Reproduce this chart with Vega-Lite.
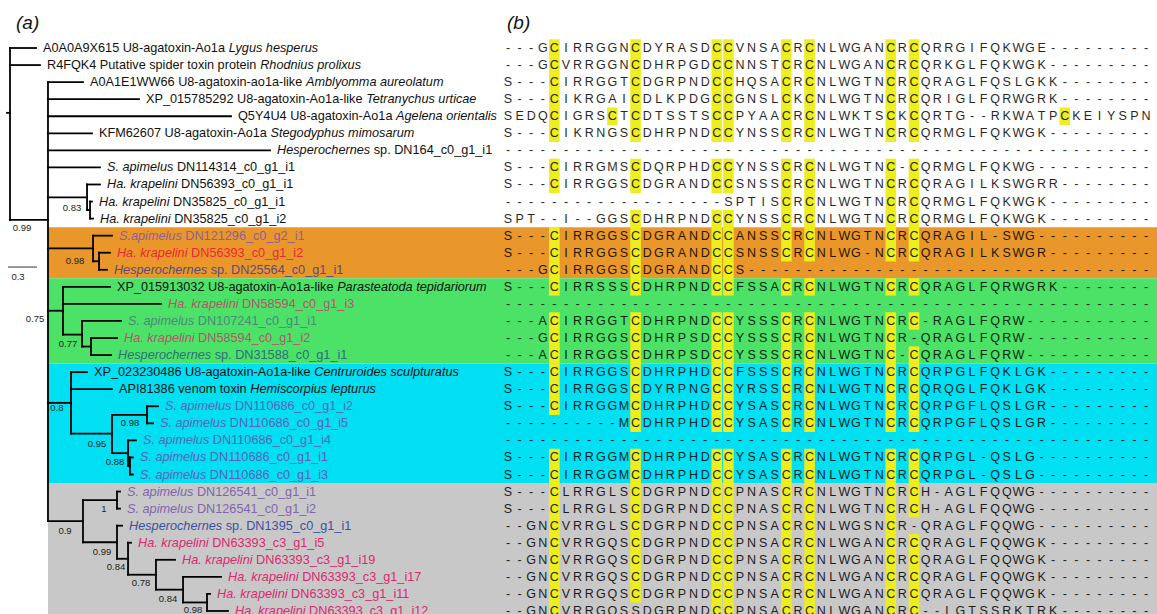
{
"$schema":"https://vega.github.io/schema/vega-lite/v6.json",
"width":1157,"height":614,
"autosize":{"type":"fit","contains":"padding"},
"padding":0,
"background":"white",
"config":{"view":{"stroke":null},"text":{"font":"Liberation Sans"}},
"resolve":{"scale":{"x":"independent"}},
"datasets":{
"bands":[{"b":"orange","x":0.393,"x2":12,"y":11.5,"y2":14.5},{"b":"green","x":0.393,"x2":12,"y":14.5,"y2":19.5},{"b":"cyan","x":0.393,"x2":12,"y":19.5,"y2":26.5},{"b":"grey","x":0.393,"x2":12,"y":26.5,"y2":35}],
"tree":[
{"x":0,"x2":0,"y":1,"y2":11.08},{"x":-0.031,"x2":0,"y":4.8,"y2":4.8},{"x":0,"x2":0.269,"y":1,"y2":1},{"x":0,"x2":0.31,"y":2,"y2":2},{"x":0,"x2":0.393,"y":11.08,"y2":11.08},
{"x":0.393,"x2":0.393,"y":3,"y2":28.73},{"x":0.393,"x2":0.755,"y":3,"y2":3},{"x":0.393,"x2":1.334,"y":4,"y2":4},{"x":0.393,"x2":2.286,"y":5,"y2":5},{"x":0.393,"x2":0.848,"y":6,"y2":6},{"x":0.393,"x2":2.69,"y":7,"y2":7},{"x":0.393,"x2":0.931,"y":8,"y2":8},
{"x":0.393,"x2":0.797,"y":9.75,"y2":9.75},{"x":0.797,"x2":0.797,"y":9,"y2":10.5},{"x":0.797,"x2":0.931,"y":9,"y2":9},{"x":0.797,"x2":0.828,"y":10.5,"y2":10.5},{"x":0.828,"x2":0.828,"y":10,"y2":11},{"x":0.828,"x2":0.848,"y":10,"y2":10},{"x":0.828,"x2":0.859,"y":11,"y2":11},
{"x":0.393,"x2":0.859,"y":12.75,"y2":12.75},{"x":0.859,"x2":0.859,"y":12,"y2":13.5},{"x":0.859,"x2":1.055,"y":12,"y2":12},{"x":0.859,"x2":0.921,"y":13.5,"y2":13.5},{"x":0.921,"x2":0.921,"y":13,"y2":14},{"x":0.921,"x2":1.034,"y":13,"y2":13},{"x":0.921,"x2":1.003,"y":14,"y2":14},
{"x":0.393,"x2":0.548,"y":16.4,"y2":16.4},{"x":0.548,"x2":0.548,"y":15,"y2":17.8},{"x":0.548,"x2":1.034,"y":15,"y2":15},{"x":0.548,"x2":1.562,"y":16,"y2":16},{"x":0.548,"x2":0.745,"y":17.8,"y2":17.8},{"x":0.745,"x2":0.745,"y":17,"y2":18.5},{"x":0.745,"x2":1.148,"y":17,"y2":17},{"x":0.745,"x2":0.838,"y":18.5,"y2":18.5},{"x":0.838,"x2":0.838,"y":18,"y2":19},{"x":0.838,"x2":1.107,"y":18,"y2":18},{"x":0.838,"x2":1.045,"y":19,"y2":19},
{"x":0.393,"x2":0.631,"y":21.8,"y2":21.8},{"x":0.631,"x2":0.631,"y":20,"y2":23.6},{"x":0.631,"x2":0.797,"y":20,"y2":20},{"x":0.631,"x2":1.055,"y":21,"y2":21},{"x":0.631,"x2":1.055,"y":23.6,"y2":23.6},{"x":1.055,"x2":1.055,"y":22.5,"y2":24.75},{"x":1.055,"x2":1.417,"y":22.5,"y2":22.5},{"x":1.417,"x2":1.417,"y":22,"y2":23},{"x":1.417,"x2":1.531,"y":22,"y2":22},{"x":1.417,"x2":1.479,"y":23,"y2":23},{"x":1.055,"x2":1.221,"y":24.75,"y2":24.75},{"x":1.221,"x2":1.221,"y":24,"y2":25.5},{"x":1.221,"x2":1.303,"y":24,"y2":24},{"x":1.221,"x2":1.241,"y":25.5,"y2":25.5},{"x":1.241,"x2":1.241,"y":25,"y2":26},{"x":1.241,"x2":1.272,"y":25,"y2":25},{"x":1.241,"x2":1.272,"y":26,"y2":26},
{"x":0.393,"x2":0.755,"y":28.73,"y2":28.73},{"x":0.755,"x2":0.755,"y":27.5,"y2":29.97},{"x":0.755,"x2":1.107,"y":27.5,"y2":27.5},{"x":1.107,"x2":1.107,"y":27,"y2":28},{"x":1.107,"x2":1.138,"y":27,"y2":27},{"x":1.107,"x2":1.138,"y":28,"y2":28},{"x":0.755,"x2":1.107,"y":29.97,"y2":29.97},{"x":1.107,"x2":1.107,"y":29,"y2":30.94},{"x":1.107,"x2":1.159,"y":29,"y2":29},{"x":1.107,"x2":1.221,"y":30.94,"y2":30.94},{"x":1.221,"x2":1.221,"y":30,"y2":31.875},{"x":1.221,"x2":1.252,"y":30,"y2":30},{"x":1.221,"x2":1.51,"y":31.875,"y2":31.875},{"x":1.51,"x2":1.51,"y":31,"y2":32.75},{"x":1.51,"x2":1.707,"y":31,"y2":31},{"x":1.51,"x2":1.79,"y":32.75,"y2":32.75},{"x":1.79,"x2":1.79,"y":32,"y2":33.5},{"x":1.79,"x2":2.183,"y":32,"y2":32},{"x":1.79,"x2":2.038,"y":33.5,"y2":33.5},{"x":2.038,"x2":2.038,"y":33,"y2":34},{"x":2.038,"x2":2.069,"y":33,"y2":33},{"x":2.038,"x2":2.255,"y":34,"y2":34}
],
"scalebar":[{"x":-0.021,"x2":0.279,"y":13.84}],
"support":[{"v":"0.99","lx":0.124,"ly":11.55},{"v":"0.83","lx":0.641,"ly":10.38},{"v":"0.98","lx":0.672,"ly":13.49},{"v":"0.3","lx":0.083,"ly":14.42},{"v":"0.75","lx":0.259,"ly":16.88},{"v":"0.77","lx":0.6,"ly":18.35},{"v":"0.8","lx":0.486,"ly":22.1},{"v":"0.98","lx":1.241,"ly":22.98},{"v":"0.95","lx":0.9,"ly":24.2},{"v":"0.88","lx":1.086,"ly":25.27},{"v":"1","lx":0.972,"ly":28.02},{"v":"0.9","lx":0.569,"ly":29.31},{"v":"0.99","lx":0.952,"ly":30.54},{"v":"0.84","lx":1.097,"ly":31.42},{"v":"0.78","lx":1.355,"ly":32.36},{"v":"0.84","lx":1.634,"ly":33.3},{"v":"0.98","lx":1.893,"ly":33.94}],
"tips":[
{"r":1,"x":0.269,"a":"A0A0A9X615 U8-agatoxin-Ao1a","b":"Lygus hesperus","k":"n","g":"ref"},
{"r":2,"x":0.31,"a":"R4FQK4 Putative spider toxin protein","b":"Rhodnius prolixus","k":"n","g":"ref"},
{"r":3,"x":0.755,"a":"A0A1E1WW66 U8-agatoxin-ao1a-like","b":"Amblyomma aureolatum","k":"n","g":"ref"},
{"r":4,"x":1.334,"a":"XP_015785292 U8-agatoxin-Ao1a-like","b":"Tetranychus urticae","k":"n","g":"ref"},
{"r":5,"x":2.286,"a":"Q5Y4U4 U8-agatoxin-Ao1a","b":"Agelena orientalis","k":"n","g":"ref"},
{"r":6,"x":0.848,"a":"KFM62607 U8-agatoxin-Ao1a","b":"Stegodyphus mimosarum","k":"n","g":"ref"},
{"r":7,"x":2.69,"a":"Hesperochernes","b":"sp. DN164_c0_g1_i1","k":"i","g":"ref"},
{"r":8,"x":0.931,"a":"S. apimelus","b":"DN114314_c0_g1_i1","k":"i","g":"ref"},
{"r":9,"x":0.931,"a":"Ha. krapelini","b":"DN56393_c0_g1_i1","k":"i","g":"ref"},
{"r":10,"x":0.848,"a":"Ha. krapelini","b":"DN35825_c0_g1_i1","k":"i","g":"ref"},
{"r":11,"x":0.859,"a":"Ha. krapelini","b":"DN35825_c0_g1_i2","k":"i","g":"ref"},
{"r":12,"x":1.055,"a":"S.apimelus","b":"DN121296_c0_g2_i1","k":"i","g":"Sa-or"},
{"r":13,"x":1.034,"a":"Ha. krapelini","b":"DN56393_c0_g1_i2","k":"i","g":"Hk-or"},
{"r":14,"x":1.003,"a":"Hesperochernes","b":"sp. DN25564_c0_g1_i1","k":"i","g":"He-or"},
{"r":15,"x":1.034,"a":"XP_015913032 U8-agatoxin-Ao1a-like","b":"Parasteatoda tepidariorum","k":"n","g":"ref"},
{"r":16,"x":1.562,"a":"Ha. krapelini","b":"DN58594_c0_g1_i3","k":"i","g":"Hk-gr"},
{"r":17,"x":1.148,"a":"S. apimelus","b":"DN107241_c0_g1_i1","k":"i","g":"Sa-gr"},
{"r":18,"x":1.107,"a":"Ha. krapelini","b":"DN58594_c0_g1_i2","k":"i","g":"Hk-gr"},
{"r":19,"x":1.045,"a":"Hesperochernes","b":"sp. DN31588_c0_g1_i1","k":"i","g":"He-gr"},
{"r":20,"x":0.797,"a":"XP_023230486 U8-agatoxin-Ao1a-like","b":"Centruroides sculpturatus","k":"n","g":"ref"},
{"r":21,"x":1.055,"a":"API81386 venom toxin","b":"Hemiscorpius lepturus","k":"n","g":"ref"},
{"r":22,"x":1.531,"a":"S. apimelus","b":"DN110686_c0_g1_i2","k":"i","g":"Sa-cy"},
{"r":23,"x":1.479,"a":"S. apimelus","b":"DN110686_c0_g1_i5","k":"i","g":"Sa-cy"},
{"r":24,"x":1.303,"a":"S. apimelus","b":"DN110686_c0_g1_i4","k":"i","g":"Sa-cy"},
{"r":25,"x":1.272,"a":"S. apimelus","b":"DN110686_c0_g1_i1","k":"i","g":"Sa-cy"},
{"r":26,"x":1.272,"a":"S. apimelus","b":"DN110686_c0_g1_i3","k":"i","g":"Sa-cy"},
{"r":27,"x":1.138,"a":"S. apimelus","b":"DN126541_c0_g1_i1","k":"i","g":"Sa-gy"},
{"r":28,"x":1.138,"a":"S. apimelus","b":"DN126541_c0_g1_i2","k":"i","g":"Sa-gy"},
{"r":29,"x":1.159,"a":"Hesperochernes","b":"sp. DN1395_c0_g1_i1","k":"i","g":"He-gy"},
{"r":30,"x":1.252,"a":"Ha. krapelini","b":"DN63393_c3_g1_i5","k":"i","g":"Hk-gy"},
{"r":31,"x":1.707,"a":"Ha. krapelini","b":"DN63393_c3_g1_i19","k":"i","g":"Hk-gy"},
{"r":32,"x":2.183,"a":"Ha. krapelini","b":"DN63393_c3_g1_i17","k":"i","g":"Hk-gy"},
{"r":33,"x":2.069,"a":"Ha. krapelini","b":"DN63393_c3_g1_i11","k":"i","g":"Hk-gy"},
{"r":34,"x":2.255,"a":"Ha. krapelini","b":"DN63393_c3_g1_i12","k":"i","g":"Hk-gy"}
],
"titles":[{"t":"(a)","p":0.062,"q":-0.47},{"t":"(b)","p":0.92,"q":-0.47}],
"aln":[
{"r":1,"s":["-","-","-","G","C","I","R","R","G","G","N","C","D","Y","R","A","S","D","C","C","V","N","S","A","C","R","C","N","L","W","G","A","N","C","R","C","Q","R","R","G","I","F","Q","K","W","G","E","-","-","-","-","-","-","-","-","-"]},
{"r":2,"s":["-","-","-","G","C","V","R","R","G","G","N","C","D","H","R","P","G","D","C","C","N","N","S","T","C","R","C","N","L","W","G","A","N","C","R","C","Q","R","K","G","L","F","Q","K","W","G","K","-","-","-","-","-","-","-","-","-"]},
{"r":3,"s":["S","-","-","-","C","I","R","R","G","G","T","C","D","G","R","P","N","D","C","C","H","Q","S","A","C","R","C","N","L","W","G","T","N","C","R","C","Q","R","A","G","L","F","Q","S","L","G","K","K","-","-","-","-","-","-","-","-"]},
{"r":4,"s":["S","-","-","-","C","I","K","R","G","A","I","C","D","L","K","P","D","G","C","C","G","N","S","L","C","K","C","N","L","W","G","T","N","C","R","C","Q","R","I","G","L","F","Q","R","W","G","R","K","-","-","-","-","-","-","-","-"]},
{"r":5,"s":["S","E","D","Q","C","I","G","R","S","C","T","C","D","T","S","S","T","S","C","C","P","Y","A","A","C","R","C","N","L","W","K","T","S","C","K","C","Q","R","T","G","-","-","R","K","W","A","T","P","C","K","E","I","Y","S","P","N"]},
{"r":6,"s":["S","-","-","-","C","I","K","R","N","G","S","C","D","H","R","P","N","D","C","C","Y","N","S","S","C","R","C","N","L","W","G","T","N","C","R","C","Q","R","M","G","L","F","Q","K","W","G","K","-","-","-","-","-","-","-","-","-"]},
{"r":7,"s":["-","-","-","-","-","-","-","-","-","-","-","-","-","-","-","-","-","-","-","-","-","-","-","-","-","-","-","-","-","-","-","-","-","-","-","-","-","-","-","-","-","-","-","-","-","-","-","-","-","-","-","-","-","-","-","-"]},
{"r":8,"s":["S","-","-","-","C","I","R","R","G","M","S","C","D","Q","R","P","H","D","C","C","Y","N","S","S","C","R","C","N","L","W","G","T","N","C","-","C","Q","R","M","G","L","F","Q","K","W","G","-","-","-","-","-","-","-","-","-","-"]},
{"r":9,"s":["S","-","-","-","C","I","R","R","G","G","S","C","D","G","R","A","N","D","C","C","S","N","S","S","C","R","C","N","L","W","G","T","N","C","R","C","Q","R","A","G","I","L","K","S","W","G","R","R","-","-","-","-","-","-","-","-"]},
{"r":10,"s":["-","-","-","-","-","-","-","-","-","-","-","-","-","-","-","-","-","-","-","S","P","T","I","S","C","R","C","N","L","W","G","T","N","C","R","C","Q","R","M","G","L","F","Q","K","W","G","K","-","-","-","-","-","-","-","-","-"]},
{"r":11,"s":["S","P","T","-","-","I","-","-","G","G","S","C","D","H","R","P","N","D","C","C","Y","N","S","S","C","R","C","N","L","W","G","T","N","C","R","C","Q","R","M","G","L","F","Q","K","W","G","K","-","-","-","-","-","-","-","-","-"]},
{"r":12,"s":["S","-","-","-","C","I","R","R","G","G","S","C","D","G","R","A","N","D","C","C","A","N","S","S","C","R","C","N","L","W","G","T","N","C","R","C","Q","R","A","G","I","L","-","S","W","G","-","-","-","-","-","-","-","-","-","-"]},
{"r":13,"s":["S","-","-","-","C","I","R","R","G","G","S","C","D","G","R","A","N","D","C","C","S","N","S","S","C","R","C","N","L","W","G","-","N","C","R","C","Q","R","A","G","I","L","K","S","W","G","R","-","-","-","-","-","-","-","-","-"]},
{"r":14,"s":["-","-","-","G","C","I","R","R","G","G","S","C","D","G","R","A","N","D","C","C","S","-","-","-","-","-","-","-","-","-","-","-","-","-","-","-","-","-","-","-","-","-","-","-","-","-","-","-","-","-","-","-","-","-","-","-"]},
{"r":15,"s":["S","-","-","-","C","I","R","R","S","S","S","C","D","H","R","P","N","D","C","C","F","S","S","A","C","R","C","N","L","W","G","T","N","C","R","C","Q","R","A","G","L","F","Q","R","W","G","R","K","-","-","-","-","-","-","-","-"]},
{"r":16,"s":["-","-","-","-","-","-","-","-","-","-","-","-","-","-","-","-","-","-","-","-","-","-","-","-","-","-","-","-","-","-","-","-","-","-","-","-","-","-","-","-","-","-","-","-","-","-","-","-","-","-","-","-","-","-","-","-"]},
{"r":17,"s":["-","-","-","A","C","I","R","R","G","G","T","C","D","H","R","P","N","D","C","C","Y","S","S","S","C","R","C","N","L","W","G","T","N","C","R","C","-","R","A","G","L","F","Q","R","W","-","-","-","-","-","-","-","-","-","-","-"]},
{"r":18,"s":["-","-","-","G","C","I","R","R","G","G","S","C","D","H","R","P","S","D","C","C","Y","S","S","S","C","R","C","N","L","W","G","T","N","C","R","-","Q","R","A","G","L","F","Q","R","W","-","-","-","-","-","-","-","-","-","-","-"]},
{"r":19,"s":["-","-","-","A","C","I","R","R","G","G","S","C","D","H","R","P","S","D","C","C","Y","S","S","S","C","R","C","N","L","W","G","T","N","C","-","C","Q","R","A","G","L","F","Q","R","W","-","-","-","-","-","-","-","-","-","-","-"]},
{"r":20,"s":["S","-","-","-","C","I","R","R","G","G","S","C","D","H","R","P","H","D","C","C","F","S","S","S","C","R","C","N","L","W","G","T","N","C","R","C","Q","R","P","G","L","F","Q","K","L","G","K","-","-","-","-","-","-","-","-","-"]},
{"r":21,"s":["S","-","-","-","C","I","R","R","G","G","S","C","D","Y","R","P","N","G","C","C","Y","R","S","S","C","R","C","N","L","W","G","T","N","C","R","C","Q","R","Q","G","L","F","Q","K","L","G","K","-","-","-","-","-","-","-","-","-"]},
{"r":22,"s":["S","-","-","-","C","I","R","R","G","G","M","C","D","H","R","P","H","D","C","C","Y","S","A","S","C","R","C","N","L","W","G","T","N","C","R","C","Q","R","P","G","F","L","Q","S","L","G","R","-","-","-","-","-","-","-","-","-"]},
{"r":23,"s":["-","-","-","-","-","-","-","-","-","-","M","C","D","H","R","P","H","D","C","C","Y","S","A","S","C","R","C","N","L","W","G","T","N","C","R","C","Q","R","P","G","F","L","Q","S","L","G","R","-","-","-","-","-","-","-","-","-"]},
{"r":24,"s":["-","-","-","-","-","-","-","-","-","-","-","-","-","-","-","-","-","-","-","-","-","-","-","-","-","-","-","-","-","-","-","-","-","-","-","-","-","-","-","-","-","-","-","-","-","-","-","-","-","-","-","-","-","-","-","-"]},
{"r":25,"s":["S","-","-","-","C","I","R","R","G","G","M","C","D","H","R","P","H","D","C","C","Y","S","A","S","C","R","C","N","L","W","G","T","N","C","R","C","Q","R","P","G","L","-","Q","S","L","G","-","-","-","-","-","-","-","-","-","-"]},
{"r":26,"s":["S","-","-","-","C","I","R","R","G","G","M","C","D","H","R","P","H","D","C","C","Y","S","A","S","C","R","C","N","L","W","G","T","N","C","R","C","Q","R","P","G","L","-","Q","S","L","G","-","-","-","-","-","-","-","-","-","-"]},
{"r":27,"s":["S","-","-","-","C","L","R","R","G","L","S","C","D","G","R","P","N","D","C","C","P","N","A","S","C","R","C","N","L","W","G","T","N","C","R","C","H","-","A","G","L","F","Q","Q","W","G","-","-","-","-","-","-","-","-","-","-"]},
{"r":28,"s":["S","-","-","-","C","L","R","R","G","L","S","C","D","G","R","P","N","D","C","C","P","N","A","S","C","R","C","N","L","W","G","T","N","C","R","C","H","-","A","G","L","F","Q","Q","W","G","-","-","-","-","-","-","-","-","-","-"]},
{"r":29,"s":["-","-","G","N","C","V","R","R","G","L","S","C","D","G","R","P","N","D","C","C","P","N","S","A","C","R","C","N","L","W","G","S","N","C","R","-","Q","R","A","G","L","F","Q","Q","W","G","-","-","-","-","-","-","-","-","-","-"]},
{"r":30,"s":["-","-","G","N","C","V","R","R","G","Q","S","C","D","G","R","P","N","D","C","C","P","N","S","A","C","R","C","N","L","W","G","A","N","C","R","C","Q","R","A","G","L","F","Q","Q","W","G","K","-","-","-","-","-","-","-","-","-"]},
{"r":31,"s":["-","-","G","N","C","V","R","R","G","Q","S","C","D","G","R","P","N","D","C","C","P","N","S","A","C","R","C","N","L","W","G","A","N","C","R","C","Q","R","A","G","L","F","Q","Q","W","G","K","-","-","-","-","-","-","-","-","-"]},
{"r":32,"s":["-","-","G","N","C","V","R","R","G","Q","S","C","D","G","R","P","N","D","C","C","P","N","S","A","C","R","C","N","L","W","G","A","N","C","R","C","Q","R","A","G","L","F","Q","Q","W","G","K","-","-","-","-","-","-","-","-","-"]},
{"r":33,"s":["-","-","G","N","C","V","R","R","G","Q","S","C","D","G","R","P","N","D","C","C","P","N","S","A","C","R","C","N","L","W","G","A","N","C","R","C","Q","R","A","G","L","F","Q","Q","W","G","K","-","-","-","-","-","-","-","-","-"]},
{"r":34,"s":["-","-","G","N","C","V","R","R","G","Q","S","S","D","G","R","P","N","D","C","C","P","N","S","A","C","R","C","N","L","W","G","A","N","C","R","C","-","-","L","G","T","S","S","R","K","T","R","K","-","-","-","-","-","-","-","-"]}
]
},
"layer":[
{"data":{"name":"bands"},"mark":{"type":"rect","clip":true},
 "encoding":{"x":{"field":"x","type":"quantitative","scale":{"domain":[-0.1034,11.865],"nice":false,"zero":false},"axis":null},"x2":{"field":"x2"},
 "y":{"field":"y","type":"quantitative","scale":{"domain":[-1.814,34.177],"reverse":true,"nice":false,"zero":false},"axis":null},"y2":{"field":"y2"},
 "fill":{"field":"b","type":"nominal","scale":{"domain":["orange","green","cyan","grey"],"range":["#E9972A","#4CE268","#00E0F2","#C8C8C8"]},"legend":null}}},
{"data":{"name":"aln"},"transform":[{"flatten":["s"]},{"window":[{"op":"row_number","as":"c"}],"groupby":["r"]},{"filter":"datum.s == 'C'"}],
 "mark":{"type":"rect","width":10.6,"height":17.4,"color":"#EEEE1E","clip":true},
 "encoding":{"x":{"field":"c","type":"quantitative","scale":{"domain":[-42.79,56.95],"nice":false,"zero":false},"axis":null},
 "y":{"field":"r","type":"quantitative","scale":{"domain":[-1.814,34.177],"reverse":true,"nice":false,"zero":false},"axis":null}}},
{"data":{"name":"aln"},"transform":[{"flatten":["s"]},{"window":[{"op":"row_number","as":"c"}],"groupby":["r"]}],
 "mark":{"type":"text","fontSize":12.5,"align":"center","baseline":"middle","color":"#000000","opacity":0.85,"clip":true},
 "encoding":{"x":{"field":"c","type":"quantitative","scale":{"domain":[-42.79,56.95],"nice":false,"zero":false},"axis":null},
 "y":{"field":"r","type":"quantitative","scale":{"domain":[-1.814,34.177],"reverse":true,"nice":false,"zero":false},"axis":null},"text":{"field":"s"}}},
{"data":{"name":"tree"},"mark":{"type":"rule","strokeWidth":1.8,"color":"#000000","strokeCap":"square","clip":true},
 "encoding":{"x":{"field":"x","type":"quantitative","scale":{"domain":[-0.1034,11.865],"nice":false,"zero":false},"axis":null},"x2":{"field":"x2"},
 "y":{"field":"y","type":"quantitative","scale":{"domain":[-1.814,34.177],"reverse":true,"nice":false,"zero":false},"axis":null},"y2":{"field":"y2"}}},
{"data":{"name":"scalebar"},"mark":{"type":"rule","strokeWidth":1,"color":"#333333","clip":true},
 "encoding":{"x":{"field":"x","type":"quantitative","scale":{"domain":[-0.1034,11.865],"nice":false,"zero":false},"axis":null},"x2":{"field":"x2"},
 "y":{"field":"y","type":"quantitative","scale":{"domain":[-1.814,34.177],"reverse":true,"nice":false,"zero":false},"axis":null}}},
{"data":{"name":"support"},"mark":{"type":"text","fontSize":9.5,"align":"center","baseline":"middle","color":"#222222","clip":true},
 "encoding":{"x":{"field":"lx","type":"quantitative","scale":{"domain":[-0.1034,11.865],"nice":false,"zero":false},"axis":null},
 "y":{"field":"ly","type":"quantitative","scale":{"domain":[-1.814,34.177],"reverse":true,"nice":false,"zero":false},"axis":null},"text":{"field":"v"}}},
{"data":{"name":"tips"},"transform":[{"filter":"datum.k == 'i'"}],
 "mark":{"type":"text","fontSize":12.7,"fontStyle":"italic","align":"left","baseline":"middle","dx":7,"clip":true},
 "encoding":{"x":{"field":"x","type":"quantitative","scale":{"domain":[-0.1034,11.865],"nice":false,"zero":false},"axis":null},
 "y":{"field":"r","type":"quantitative","scale":{"domain":[-1.814,34.177],"reverse":true,"nice":false,"zero":false},"axis":null},"text":{"field":"a"},
 "color":{"field":"g","type":"nominal","scale":{"domain":["ref","Sa-or","Hk-or","He-or","Hk-gr","Sa-gr","He-gr","Sa-cy","Sa-gy","He-gy","Hk-gy"],"range":["#111111","#8F5E99","#EC2638","#5E4A7E","#B8546A","#4D8878","#2D6F7D","#5D62B6","#8264AE","#3F4FA0","#DC2870"]},"legend":null}}},
{"data":{"name":"tips"},"transform":[{"filter":"datum.k == 'n'"}],
 "mark":{"type":"text","fontSize":12.7,"align":"left","baseline":"middle","dx":7,"clip":true},
 "encoding":{"x":{"field":"x","type":"quantitative","scale":{"domain":[-0.1034,11.865],"nice":false,"zero":false},"axis":null},
 "y":{"field":"r","type":"quantitative","scale":{"domain":[-1.814,34.177],"reverse":true,"nice":false,"zero":false},"axis":null},"text":{"field":"a"},
 "color":{"field":"g","type":"nominal","scale":{"domain":["ref","Sa-or","Hk-or","He-or","Hk-gr","Sa-gr","He-gr","Sa-cy","Sa-gy","He-gy","Hk-gy"],"range":["#111111","#8F5E99","#EC2638","#5E4A7E","#B8546A","#4D8878","#2D6F7D","#5D62B6","#8264AE","#3F4FA0","#DC2870"]},"legend":null}}},
{"data":{"name":"tips"},"transform":[{"filter":"datum.a == 'S. apimelus'"}],
 "mark":{"type":"text","fontSize":12.7,"align":"left","baseline":"middle","dx":76.9,"clip":true},
 "encoding":{"x":{"field":"x","type":"quantitative","scale":{"domain":[-0.1034,11.865],"nice":false,"zero":false},"axis":null},
 "y":{"field":"r","type":"quantitative","scale":{"domain":[-1.814,34.177],"reverse":true,"nice":false,"zero":false},"axis":null},"text":{"field":"b"},
 "color":{"field":"g","type":"nominal","scale":{"domain":["ref","Sa-or","Hk-or","He-or","Hk-gr","Sa-gr","He-gr","Sa-cy","Sa-gy","He-gy","Hk-gy"],"range":["#111111","#8F5E99","#EC2638","#5E4A7E","#B8546A","#4D8878","#2D6F7D","#5D62B6","#8264AE","#3F4FA0","#DC2870"]},"legend":null}}},
{"data":{"name":"tips"},"transform":[{"filter":"datum.a == 'S.apimelus'"}],
 "mark":{"type":"text","fontSize":12.7,"align":"left","baseline":"middle","dx":73.3,"clip":true},
 "encoding":{"x":{"field":"x","type":"quantitative","scale":{"domain":[-0.1034,11.865],"nice":false,"zero":false},"axis":null},
 "y":{"field":"r","type":"quantitative","scale":{"domain":[-1.814,34.177],"reverse":true,"nice":false,"zero":false},"axis":null},"text":{"field":"b"},
 "color":{"field":"g","type":"nominal","scale":{"domain":["ref","Sa-or","Hk-or","He-or","Hk-gr","Sa-gr","He-gr","Sa-cy","Sa-gy","He-gy","Hk-gy"],"range":["#111111","#8F5E99","#EC2638","#5E4A7E","#B8546A","#4D8878","#2D6F7D","#5D62B6","#8264AE","#3F4FA0","#DC2870"]},"legend":null}}},
{"data":{"name":"tips"},"transform":[{"filter":"datum.a == 'Ha. krapelini'"}],
 "mark":{"type":"text","fontSize":12.7,"align":"left","baseline":"middle","dx":81.1,"clip":true},
 "encoding":{"x":{"field":"x","type":"quantitative","scale":{"domain":[-0.1034,11.865],"nice":false,"zero":false},"axis":null},
 "y":{"field":"r","type":"quantitative","scale":{"domain":[-1.814,34.177],"reverse":true,"nice":false,"zero":false},"axis":null},"text":{"field":"b"},
 "color":{"field":"g","type":"nominal","scale":{"domain":["ref","Sa-or","Hk-or","He-or","Hk-gr","Sa-gr","He-gr","Sa-cy","Sa-gy","He-gy","Hk-gy"],"range":["#111111","#8F5E99","#EC2638","#5E4A7E","#B8546A","#4D8878","#2D6F7D","#5D62B6","#8264AE","#3F4FA0","#DC2870"]},"legend":null}}},
{"data":{"name":"tips"},"transform":[{"filter":"datum.a == 'Hesperochernes'"}],
 "mark":{"type":"text","fontSize":12.7,"align":"left","baseline":"middle","dx":103.7,"clip":true},
 "encoding":{"x":{"field":"x","type":"quantitative","scale":{"domain":[-0.1034,11.865],"nice":false,"zero":false},"axis":null},
 "y":{"field":"r","type":"quantitative","scale":{"domain":[-1.814,34.177],"reverse":true,"nice":false,"zero":false},"axis":null},"text":{"field":"b"},
 "color":{"field":"g","type":"nominal","scale":{"domain":["ref","Sa-or","Hk-or","He-or","Hk-gr","Sa-gr","He-gr","Sa-cy","Sa-gy","He-gy","Hk-gy"],"range":["#111111","#8F5E99","#EC2638","#5E4A7E","#B8546A","#4D8878","#2D6F7D","#5D62B6","#8264AE","#3F4FA0","#DC2870"]},"legend":null}}},
{"data":{"name":"tips"},"transform":[{"filter":"datum.a == 'A0A0A9X615 U8-agatoxin-Ao1a'"}],
 "mark":{"type":"text","fontSize":12.7,"fontStyle":"italic","align":"left","baseline":"middle","dx":192.7,"color":"#111111","clip":true},
 "encoding":{"x":{"field":"x","type":"quantitative","scale":{"domain":[-0.1034,11.865],"nice":false,"zero":false},"axis":null},
 "y":{"field":"r","type":"quantitative","scale":{"domain":[-1.814,34.177],"reverse":true,"nice":false,"zero":false},"axis":null},"text":{"field":"b"}}},
{"data":{"name":"tips"},"transform":[{"filter":"datum.a == 'R4FQK4 Putative spider toxin protein'"}],
 "mark":{"type":"text","fontSize":12.7,"fontStyle":"italic","align":"left","baseline":"middle","dx":220.2,"color":"#111111","clip":true},
 "encoding":{"x":{"field":"x","type":"quantitative","scale":{"domain":[-0.1034,11.865],"nice":false,"zero":false},"axis":null},
 "y":{"field":"r","type":"quantitative","scale":{"domain":[-1.814,34.177],"reverse":true,"nice":false,"zero":false},"axis":null},"text":{"field":"b"}}},
{"data":{"name":"tips"},"transform":[{"filter":"datum.a == 'A0A1E1WW66 U8-agatoxin-ao1a-like'"}],
 "mark":{"type":"text","fontSize":12.7,"fontStyle":"italic","align":"left","baseline":"middle","dx":223.0,"color":"#111111","clip":true},
 "encoding":{"x":{"field":"x","type":"quantitative","scale":{"domain":[-0.1034,11.865],"nice":false,"zero":false},"axis":null},
 "y":{"field":"r","type":"quantitative","scale":{"domain":[-1.814,34.177],"reverse":true,"nice":false,"zero":false},"axis":null},"text":{"field":"b"}}},
{"data":{"name":"tips"},"transform":[{"filter":"indexof(datum.a, 'XP_') == 0"}],
 "mark":{"type":"text","fontSize":12.7,"fontStyle":"italic","align":"left","baseline":"middle","dx":227.2,"color":"#111111","clip":true},
 "encoding":{"x":{"field":"x","type":"quantitative","scale":{"domain":[-0.1034,11.865],"nice":false,"zero":false},"axis":null},
 "y":{"field":"r","type":"quantitative","scale":{"domain":[-1.814,34.177],"reverse":true,"nice":false,"zero":false},"axis":null},"text":{"field":"b"}}},
{"data":{"name":"tips"},"transform":[{"filter":"datum.a == 'Q5Y4U4 U8-agatoxin-Ao1a'"}],
 "mark":{"type":"text","fontSize":12.7,"fontStyle":"italic","align":"left","baseline":"middle","dx":165.1,"color":"#111111","clip":true},
 "encoding":{"x":{"field":"x","type":"quantitative","scale":{"domain":[-0.1034,11.865],"nice":false,"zero":false},"axis":null},
 "y":{"field":"r","type":"quantitative","scale":{"domain":[-1.814,34.177],"reverse":true,"nice":false,"zero":false},"axis":null},"text":{"field":"b"}}},
{"data":{"name":"tips"},"transform":[{"filter":"datum.a == 'KFM62607 U8-agatoxin-Ao1a'"}],
 "mark":{"type":"text","fontSize":12.7,"fontStyle":"italic","align":"left","baseline":"middle","dx":178.5,"color":"#111111","clip":true},
 "encoding":{"x":{"field":"x","type":"quantitative","scale":{"domain":[-0.1034,11.865],"nice":false,"zero":false},"axis":null},
 "y":{"field":"r","type":"quantitative","scale":{"domain":[-1.814,34.177],"reverse":true,"nice":false,"zero":false},"axis":null},"text":{"field":"b"}}},
{"data":{"name":"tips"},"transform":[{"filter":"datum.a == 'API81386 venom toxin'"}],
 "mark":{"type":"text","fontSize":12.7,"fontStyle":"italic","align":"left","baseline":"middle","dx":138.3,"color":"#111111","clip":true},
 "encoding":{"x":{"field":"x","type":"quantitative","scale":{"domain":[-0.1034,11.865],"nice":false,"zero":false},"axis":null},
 "y":{"field":"r","type":"quantitative","scale":{"domain":[-1.814,34.177],"reverse":true,"nice":false,"zero":false},"axis":null},"text":{"field":"b"}}},
{"data":{"name":"titles"},"transform":[{"filter":"datum.t == '(a)'"}],
 "mark":{"type":"text","fontSize":19,"fontStyle":"italic","align":"left","baseline":"middle","color":"#111111","clip":true},
 "encoding":{"x":{"field":"p","type":"quantitative","scale":{"domain":[-0.1034,11.865],"nice":false,"zero":false},"axis":null},
 "y":{"field":"q","type":"quantitative","scale":{"domain":[-1.814,34.177],"reverse":true,"nice":false,"zero":false},"axis":null},"text":{"field":"t"}}},
{"data":{"name":"titles"},"transform":[{"filter":"datum.t == '(b)'"}],
 "mark":{"type":"text","fontSize":19,"fontStyle":"italic","align":"left","baseline":"middle","color":"#111111","clip":true},
 "encoding":{"x":{"field":"p","type":"quantitative","scale":{"domain":[-42.79,56.95],"nice":false,"zero":false},"axis":null},
 "y":{"field":"q","type":"quantitative","scale":{"domain":[-1.814,34.177],"reverse":true,"nice":false,"zero":false},"axis":null},"text":{"field":"t"}}}
]
}
